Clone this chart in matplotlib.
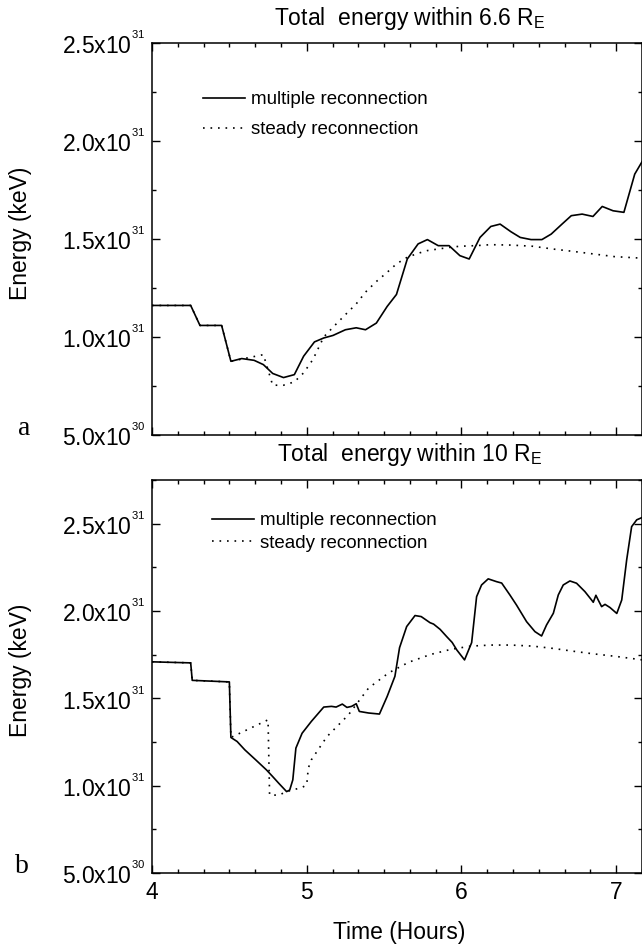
import matplotlib
matplotlib.use('Agg')
import matplotlib.pyplot as plt
from matplotlib.ticker import MultipleLocator, FuncFormatter
import numpy as np

# panel a: total energy within 6.6 RE (units of 1e31 keV)
time_a_multi = [4.00, 4.25, 4.31, 4.45, 4.51, 4.58, 4.66, 4.72, 4.78, 4.85, 4.92, 4.98,
                5.05, 5.11, 5.17, 5.25, 5.32, 5.38, 5.45, 5.52, 5.58, 5.65, 5.72, 5.78,
                5.85, 5.92, 5.99, 6.05, 6.12, 6.19, 6.25, 6.32, 6.38, 6.45, 6.52, 6.58,
                6.65, 6.71, 6.78, 6.85, 6.91, 6.98, 7.05, 7.12, 7.17]
energy_a_multi = [1.161, 1.161, 1.059, 1.059, 0.876, 0.890, 0.881, 0.859, 0.814, 0.793, 0.808, 0.902,
                  0.975, 0.995, 1.008, 1.037, 1.047, 1.037, 1.071, 1.156, 1.217, 1.398, 1.475, 1.497,
                  1.466, 1.466, 1.415, 1.398, 1.508, 1.564, 1.576, 1.537, 1.508, 1.497, 1.497, 1.525,
                  1.576, 1.619, 1.627, 1.615, 1.666, 1.644, 1.636, 1.831, 1.898]

time_a_steady = [4.00, 4.25, 4.31, 4.45, 4.51, 4.72, 4.78, 4.85, 4.92, 4.98, 5.04, 5.11,
                 5.17, 5.25, 5.32, 5.38, 5.45, 5.52, 5.58, 5.65, 5.72, 5.78, 5.85, 5.93,
                 5.99, 6.09, 6.19, 6.32, 6.46, 6.59, 6.72, 6.85, 6.99, 7.17]
energy_a_steady = [1.161, 1.161, 1.059, 1.059, 0.876, 0.910, 0.754, 0.754, 0.771, 0.817, 0.885, 1.000,
                   1.050, 1.114, 1.169, 1.229, 1.283, 1.330, 1.373, 1.407, 1.427, 1.441, 1.449, 1.458,
                   1.463, 1.466, 1.471, 1.469, 1.463, 1.449, 1.437, 1.424, 1.410, 1.402]

# panel b: total energy within 10 RE (units of 1e31 keV)
time_b_multi = [4.00, 4.25, 4.26, 4.50, 4.51, 4.55, 4.60, 4.67, 4.74, 4.78, 4.82, 4.87,
                4.89, 4.91, 4.93, 4.97, 5.03, 5.11, 5.16, 5.19, 5.23, 5.26, 5.29, 5.32,
                5.34, 5.40, 5.47, 5.52, 5.57, 5.60, 5.646, 5.70, 5.74, 5.797, 5.82, 5.862,
                5.905, 5.94, 5.97, 6.02, 6.066, 6.098, 6.13, 6.173, 6.227, 6.26, 6.313, 6.356,
                6.421, 6.475, 6.518, 6.55, 6.594, 6.626, 6.658, 6.701, 6.744, 6.798, 6.841, 6.852,
                6.869, 6.884, 6.906, 6.928, 6.96, 7.004, 7.036, 7.068, 7.10, 7.133, 7.167]
energy_b_multi = [1.709, 1.703, 1.603, 1.594, 1.276, 1.253, 1.205, 1.148, 1.090, 1.052, 1.013, 0.966,
                  0.975, 1.033, 1.215, 1.300, 1.368, 1.450, 1.454, 1.450, 1.467, 1.448, 1.454, 1.469,
                  1.425, 1.416, 1.410, 1.511, 1.626, 1.790, 1.911, 1.974, 1.968, 1.933, 1.925, 1.895,
                  1.853, 1.820, 1.777, 1.720, 1.819, 2.082, 2.149, 2.184, 2.168, 2.160, 2.092, 2.034,
                  1.939, 1.882, 1.857, 1.920, 1.987, 2.092, 2.149, 2.172, 2.159, 2.111, 2.063, 2.050,
                  2.090, 2.063, 2.025, 2.038, 2.020, 1.986, 2.063, 2.293, 2.483, 2.522, 2.535]

time_b_steady = [4.00, 4.25, 4.26, 4.50, 4.51, 4.75, 4.76, 4.82, 4.87, 4.97, 5.00, 5.01,
                 5.03, 5.13, 5.27, 5.40, 5.53, 5.66, 5.80, 5.93, 6.06, 6.19, 6.32, 6.46,
                 6.59, 6.72, 6.85, 6.99, 7.17]
energy_b_steady = [1.709, 1.703, 1.603, 1.594, 1.276, 1.377, 0.946, 0.946, 0.966, 0.990, 1.004, 1.100,
                   1.148, 1.280, 1.406, 1.559, 1.646, 1.707, 1.751, 1.780, 1.799, 1.805, 1.805, 1.799,
                   1.786, 1.770, 1.755, 1.741, 1.720]

UNIT = 1e31
XMAX = 7.167
FS = 16.5

plt.rcParams['font.family'] = ['Liberation Sans', 'DejaVu Sans']
plt.rcParams['mathtext.fontset'] = 'custom'
plt.rcParams['mathtext.rm'] = 'Liberation Sans'
plt.rcParams['mathtext.it'] = 'Liberation Sans'
plt.rcParams['mathtext.default'] = 'regular'


def sci_label(val, pos):
    if val <= 0:
        return ''
    exp = int(np.floor(np.log10(val) + 1e-9))
    mant = val / 10 ** exp
    return '%.1fx10$^{{}^{%d}}$' % (mant, exp)


def style_axes(ax, ymax, show_xlabels):
    ax.set_xlim(4, XMAX)
    ax.set_ylim(0.5 * UNIT, ymax * UNIT)
    ax.xaxis.set_major_locator(MultipleLocator(1))
    ax.xaxis.set_minor_locator(MultipleLocator(1 / 6))
    ax.yaxis.set_major_locator(MultipleLocator(0.5 * UNIT))
    ax.yaxis.set_minor_locator(MultipleLocator(0.25 * UNIT))
    ax.yaxis.set_major_formatter(FuncFormatter(sci_label))
    ax.tick_params(which='both', direction='in', top=True, right=True, width=1.0)
    ax.tick_params(which='major', length=5.5, labelsize=FS, pad=5)
    ax.tick_params(which='minor', length=3)
    ax.tick_params(axis='x', labelbottom=show_xlabels, pad=6)
    for sp in ax.spines.values():
        sp.set_linewidth(1.1)


def draw_panel(ax, t_multi, e_multi, t_steady, e_steady, legend_anchor, spacing):
    ax.plot(t_multi, np.array(e_multi) * UNIT, color='black', lw=1.2, label='multiple reconnection')
    ax.plot(t_steady, np.array(e_steady) * UNIT, color='black', lw=1.2,
            linestyle=(0, (1, 3.5)), label='steady reconnection')
    ax.legend(loc='upper left', bbox_to_anchor=legend_anchor, frameon=False,
              fontsize=13.5, handlelength=2.25, handletextpad=0.3,
              labelspacing=spacing, borderaxespad=0, borderpad=0)


def main():
    W, H = 642, 947
    fig = plt.figure(figsize=(W / 100, H / 100), dpi=100)
    left = 152 / W
    width = 1.0 - left
    ax_a = fig.add_axes([left, 1 - 435 / H, width, (435 - 43) / H])
    ax_b = fig.add_axes([left, 1 - 873 / H, width, (873 - 480) / H])

    draw_panel(ax_a, time_a_multi, energy_a_multi, time_a_steady, energy_a_steady,
               ((203 - 152) / (W - 152), (435 - 91) / (435 - 43)), 0.7)
    draw_panel(ax_b, time_b_multi, energy_b_multi, time_b_steady, energy_b_steady,
               ((212 - 152) / (W - 152), (873 - 512) / (873 - 480)), 0.29)

    style_axes(ax_a, 2.5, False)
    style_axes(ax_b, 2.75, True)

    fig.text(410 / W, 1 - 18 / H, 'Total  energy within 6.6 R$_E$', ha='center', va='center', fontsize=FS)
    fig.text(410 / W, 1 - 455 / H, 'Total  energy within 10 R$_E$', ha='center', va='center', fontsize=FS)
    fig.text(21 / W, 1 - 233 / H, 'Energy (keV)', rotation=90, ha='center', va='center', fontsize=FS)
    fig.text(21 / W, 1 - 670 / H, 'Energy (keV)', rotation=90, ha='center', va='center', fontsize=FS)
    fig.text(399 / W, 1 - 932 / H, 'Time (Hours)', ha='center', va='center', fontsize=FS)
    fig.text(24 / W, 1 - 428 / H, 'a', ha='center', va='center', fontsize=20, family='Liberation Serif')
    fig.text(22 / W, 1 - 866 / H, 'b', ha='center', va='center', fontsize=20, family='Liberation Serif')

    fig.savefig('out.png', dpi=100)


if __name__ == '__main__':
    main()
